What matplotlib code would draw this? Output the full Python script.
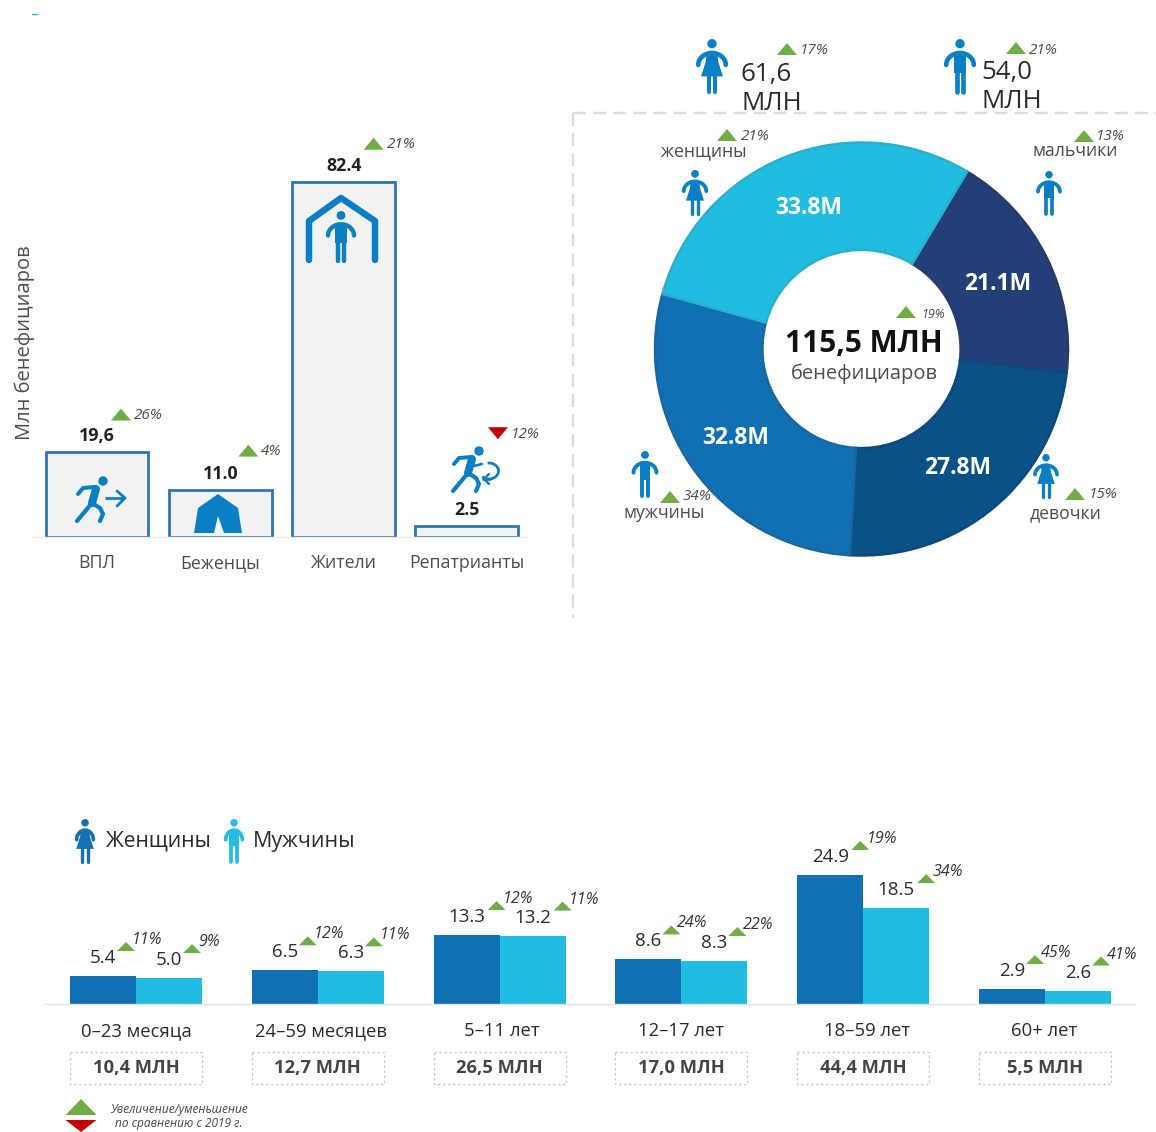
import math
import matplotlib
matplotlib.use('Agg')
import matplotlib.pyplot as plt
from matplotlib.patches import Circle, Polygon, Rectangle, Arc

W, H = 1156, 1132
plt.rcParams['font.family'] = ['Open Sans', 'DejaVu Sans']

# top left bars
cat_labels = ['ВПЛ', 'Беженцы', 'Жители', 'Репатрианты']
cat_values = [19.6, 11.0, 82.4, 2.5]
cat_texts = ['19,6', '11.0', '82.4', '2.5']
cat_pct = ['26%', '4%', '21%', '12%']
cat_up = [True, True, True, False]

# donut
seg_values = [21.1, 27.8, 32.8, 33.8]
seg_colors = ['#233f78', '#0a5188', '#116fb4', '#21bde1']
seg_edges = ['#2a3a6b', '#0b4a7a', '#1a679f', '#2bb0cc']

# age groups
age_labels = ['0–23 месяца', '24–59 месяцев', '5–11 лет', '12–17 лет', '18–59 лет', '60+ лет']
age_totals = ['10,4 МЛН', '12,7 МЛН', '26,5 МЛН', '17,0 МЛН', '44,4 МЛН', '5,5 МЛН']
female = [5.4, 6.5, 13.3, 8.6, 24.9, 2.9]
male = [5.0, 6.3, 13.2, 8.3, 18.5, 2.6]
female_pct = ['11%', '12%', '12%', '24%', '19%', '45%']
male_pct = ['9%', '11%', '11%', '22%', '34%', '41%']

GREEN = '#70ad47'
RED = '#c00000'
ICON = '#0a7fc4'
DARK = '#2b2b2b'
GREY = '#4d4d4d'


def px_axes(x0, y0, x1, y1):
    return fig.add_axes([x0 / W, 1 - y1 / H, (x1 - x0) / W, (y1 - y0) / H])


fig = plt.figure(figsize=(W / 100, H / 100), dpi=100)

# overlay in picture pixels, everything around the marks goes here
ov = px_axes(0, 0, W, H)
ov.set_xlim(0, W)
ov.set_ylim(H, 0)
ov.axis('off')
ov.set_zorder(5)
ov.patch.set_alpha(0)


def to_px(ax, x, y):
    dx, dy = ax.transData.transform((x, y))
    return dx, H - dy


def txt(x, y, s, size, color=DARK, ha='center', **kw):
    ov.text(x, y + 5, s, fontsize=size, color=color, ha=ha, va='center', **kw)


def tri(cx, base, up=True, w=20, h=12):
    color = GREEN if up else RED
    if up:
        pts = [(cx - w / 2, base), (cx + w / 2, base), (cx, base - h)]
    else:
        pts = [(cx - w / 2, base - h), (cx + w / 2, base - h), (cx, base)]
    ov.add_patch(Polygon(pts, closed=True, fc=color, ec='none'))


def pct(x, y, s, size=11, color='#4a4a4a'):
    txt(x, y, s, size, color=color, ha='left', style='italic')


def line(pts, lw, color=ICON, cap='round'):
    xs, ys = zip(*pts)
    ov.plot(xs, ys, color=color, lw=lw * 0.72, solid_capstyle=cap, solid_joinstyle='round')


def person(cx, top, h, color=ICON, woman=False, arm=0.25):
    r = 0.085 * h
    ov.add_patch(Circle((cx, top + r), r, fc=color, ec='none'))
    # arched arms
    a, b = arm * h, 0.215 * h
    arch = [(cx + a * math.cos(math.radians(t)), top + 0.47 * h - b * math.sin(math.radians(t)))
            for t in range(0, 181, 10)]
    line(arch, 0.085 * h, color)
    if woman:
        ov.add_patch(Polygon([(cx - 0.1 * h, top + 0.26 * h), (cx + 0.1 * h, top + 0.26 * h),
                              (cx + 0.11 * h, top + 0.4 * h), (cx + 0.2 * h, top + 0.68 * h),
                              (cx - 0.2 * h, top + 0.68 * h), (cx - 0.11 * h, top + 0.4 * h)],
                             closed=True, fc=color, ec='none'))
        leg_top, leg_w = 0.66, 0.075
    else:
        ov.add_patch(Rectangle((cx - 0.115 * h, top + 0.26 * h), 0.23 * h, 0.36 * h, fc=color, ec='none'))
        leg_top, leg_w = 0.58, 0.085
    for side in (-1, 1):
        xl = cx + side * 0.062 * h
        line([(xl, top + leg_top * h), (xl, top + 0.97 * h)], leg_w * h, color)


def runner(x, y):
    # x, y is the top left corner of the figure
    ov.add_patch(Circle((x + 28, y + 4), 4.7, fc=ICON, ec='none'))
    line([(x + 3, y + 17), (x + 8, y + 11), (x + 20, y + 10)], 4)
    line([(x + 21, y + 12), (x + 17, y + 26)], 8)
    line([(x + 17, y + 26), (x + 2, y + 44)], 4.2)
    line([(x + 17, y + 26), (x + 25, y + 31), (x + 28, y + 37), (x + 25, y + 44)], 4.2)


# ---- top left bars ----
axb = px_axes(33, 130, 527, 537)
axb.set_xlim(-0.519, 3.487)
axb.set_ylim(0, 94.4)
axb.bar(range(4), cat_values, width=0.835, color='#f2f2f2', edgecolor='#2f75b5', linewidth=2)
axb.set_xticks([])
axb.set_yticks([])
for s in ('top', 'left', 'right'):
    axb.spines[s].set_visible(False)
axb.spines['bottom'].set_color('#ececec')
axb.spines['bottom'].set_linewidth(1)
axb.patch.set_alpha(0)

tri_dx = [24, 28, 30, 31]
tri_up = [32, 33, 32, 87]
for i in range(4):
    x, y = to_px(axb, i, cat_values[i])
    txt(x, y - 21, cat_texts[i], 12.8, color='#222222', fontweight='bold')
    tri(x + tri_dx[i], y - tri_up[i], cat_up[i])
    pct(x + tri_dx[i] + 13, y - tri_up[i] - 10, cat_pct[i])
    txt(x, 558, cat_labels[i], 12.8, color=GREY)
txt(25, 338, 'Млн бенефициаров', 14.5, color=GREY, rotation=90)

# pictograms in the bars
runner(75, 477)
line([(106, 498), (124, 498)], 2.8)
line([(117, 491), (125, 498), (117, 506)], 2.8)
ov.add_patch(Polygon([(194, 533), (198, 508), (218, 494), (238, 508), (242, 533), (224, 533),
                      (218, 516), (214, 533)], closed=True, fc=ICON, ec='none'))
line([(309, 260), (309, 221), (341, 198), (375, 221), (375, 260)], 6.5)
person(341, 211, 52)
runner(451, 447)
ov.add_patch(Arc((489, 471), 19, 16, theta1=-100, theta2=140, ec=ICON, lw=2))
line([(474, 466), (482, 464)], 2.6)
line([(483, 479), (490, 479)], 2.6)
line([(484, 479), (489, 474)], 2.4)
line([(484, 479), (489, 484)], 2.4)

# ---- separators ----
ov.plot([573, W], [113, 113], color='#dcdcdc', lw=1.7, dashes=(5.5, 3))
ov.plot([573, 573], [113, 618], color='#dcdcdc', lw=1.7, dashes=(5.5, 3))
ov.plot([32, 37], [14, 14], color='#21bde1', lw=1)

# ---- top totals ----
person(712, 39, 55, woman=True)
txt(741, 69, '61,6', 18.6, ha='left')
txt(741, 98, 'МЛН', 18.6, ha='left')
tri(787, 55)
pct(800, 45, '17%')
person(960, 39, 55)
txt(981, 68, '54,0', 18.6, ha='left')
txt(981, 97, 'МЛН', 18.6, ha='left')
tri(1016, 54)
pct(1029, 45, '21%')

# ---- donut ----
axp = px_axes(655, 142.5, 1068, 555.5)
wedges, _ = axp.pie(seg_values, colors=seg_colors, startangle=59.2, counterclock=False, radius=1,
                    wedgeprops={'width': 0.52})
for w, ec in zip(wedges, seg_edges):
    w.set_edgecolor(ec)
    w.set_linewidth(1.8)
axp.set_xlim(-1, 1)
axp.set_ylim(-1, 1)

seg_pos = [(998, 279), (958, 463), (736, 433), (809, 203)]
for v, (x, y) in zip(seg_values, seg_pos):
    txt(x, y, f'{v}M', 16.5, color='white', fontweight='bold')

txt(864, 339, '115,5 МЛН', 21.5, color='#111111', fontweight='bold')
txt(864, 369, 'бенефициаров', 14.5, color=GREY)
tri(906, 318)
pct(921, 309, '19%', size=9)

txt(704, 146, 'женщины', 12.7, color=GREY)
tri(727, 141)
pct(741, 132, '21%')
person(695, 170, 45, woman=True)
txt(1075, 146, 'мальчики', 12.7, color=GREY)
tri(1084, 142)
pct(1096, 131, '13%')
person(1049, 171, 44)
txt(664, 508, 'мужчины', 12.7, color=GREY)
tri(670, 503)
pct(683, 492, '34%')
person(645, 451, 46)
txt(1066, 508, 'девочки', 12.7, color=GREY)
tri(1075, 500)
pct(1089, 490, '15%')
person(1046, 454, 44, woman=True)

# ---- age groups ----
axa = px_axes(45, 820, 1135, 1004)
axa.set_xlim(-0.5006, 5.495)
axa.set_ylim(0, 35.5)
bw = 0.363
xs = list(range(6))
axa.bar([x - bw / 2 for x in xs], female, width=bw, color='#116fb4')
axa.bar([x + bw / 2 for x in xs], male, width=bw, color='#21bde1')
axa.set_xticks([])
axa.set_yticks([])
for s in ('top', 'left', 'right'):
    axa.spines[s].set_visible(False)
axa.spines['bottom'].set_color('#e4e4e4')
axa.spines['bottom'].set_linewidth(1)
axa.patch.set_alpha(0)

label_dx = [0, 3, 2, 0, 4, -1]
for i in xs:
    for val, p, off in ((female[i], female_pct[i], -bw / 2), (male[i], male_pct[i], bw / 2)):
        x, y = to_px(axa, i + off, val)
        label = f'{val:.1f}'
        txt(x, y - 23, label, 13.5)
        dx = 23 if len(label) == 3 else 30
        tri(x + dx, y - 25, w=18, h=9)
        pct(x + dx + 6, y - 41, p, size=11.5, color='#333333')
    cx, _ = to_px(axa, i, 0)
    txt(cx + label_dx[i], 1026, age_labels[i], 13.3)
    ov.add_patch(Rectangle((cx - 66, 1052), 132, 32, fc='none', ec='#c8c8c8', lw=0.9, ls=(0, (2, 2))))
    txt(cx, 1063, age_totals[i], 13.2, color='#444444', fontweight='bold')

person(85, 819, 44, color='#1570b5', woman=True, arm=0.19)
txt(106, 836, 'Женщины', 15.2, ha='left')
person(234, 819, 44, color='#22bde0', arm=0.19)
txt(253, 836, 'Мужчины', 15.4, ha='left')

# key at the bottom
tri(81, 1115, w=31, h=16)
tri(81, 1132, up=False, w=31, h=12)
txt(179, 1105, 'Увеличение/уменьшение', 8.6, color='#444444', style='italic')
txt(179, 1119, 'по сравнению с 2019 г.', 8.6, color='#444444', style='italic')

fig.savefig('out.png', dpi=100)
